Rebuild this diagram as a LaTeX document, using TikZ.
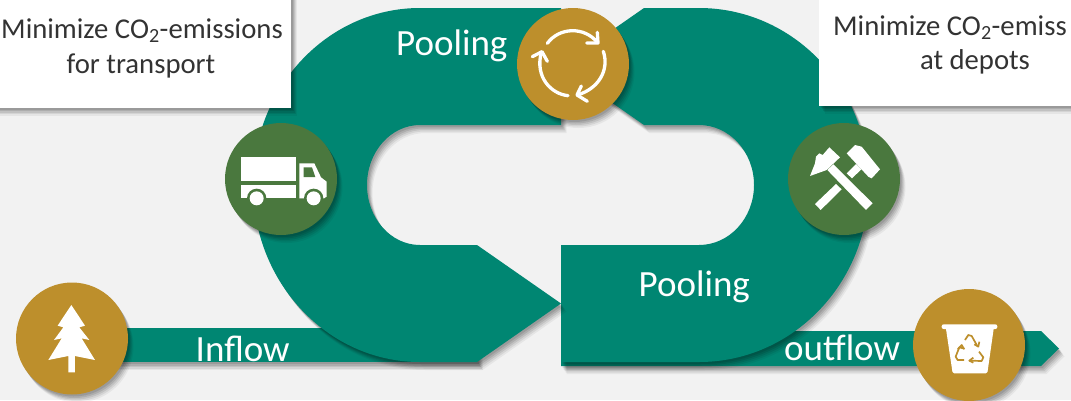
\documentclass[tikz,border=0pt]{standalone}
\usepackage{fontspec}
\setmainfont{Carlito}
\usetikzlibrary{shadows}
\definecolor{bgc}{HTML}{F2F2F2}
\definecolor{teal1}{HTML}{008672}
\definecolor{gold1}{HTML}{BD8F2C}
\definecolor{green1}{HTML}{4A783E}
\definecolor{ink}{HTML}{333333}
\tikzset{
  softshadow/.style={
    general shadow={fill=black,opacity=.10,shadow xshift=1.5pt,shadow yshift=-2pt},
    general shadow={fill=black,opacity=.10,shadow xshift=2.5pt,shadow yshift=-3.5pt},
    general shadow={fill=black,opacity=.09,shadow xshift=3.5pt,shadow yshift=-5pt},
    general shadow={fill=black,opacity=.07,shadow xshift=4.5pt,shadow yshift=-6.5pt},
    general shadow={fill=black,opacity=.05,shadow xshift=5.5pt,shadow yshift=-8pt}},
  band/.style={fill=teal1,softshadow},
  disc/.style={circle,minimum size=112pt,inner sep=0pt,softshadow},
  golddisc/.style={disc,fill=gold1},
  greendisc/.style={disc,fill=green1},
  whitebox/.style={fill=white,softshadow},
  bigtext/.style={text=white,inner sep=0pt,anchor=base west,font=\fontsize{37}{40}\selectfont},
  boxtext/.style={text=ink,inner sep=0pt,anchor=base,font=\fontsize{28.7}{32}\selectfont},
  icon/.style={fill=white},
  loopline/.style={draw=white,line width=3.3pt,line cap=round,line join=round},
  recline/.style={draw=gold1,line width=1.7pt,line join=round},
}
\begin{document}
\begin{tikzpicture}[x=1pt,y=-1pt]
\useasboundingbox (0,0) rectangle (1071,400);
\clip (0,0) rectangle (1071,400);
\fill[bgc] (0,0) rectangle (1071,400);
% straight bands
\path[band] (72,328) -- (477,328) -- (477,362) -- (72,362) -- cycle;
\path[band] (561,331) -- (1041,331) -- (1059,348.5) -- (1041,366) -- (561,366) -- cycle;
% right half of the loop
\path[band] (644,8) -- (699,8) arc[start angle=270,end angle=450,x radius=170,y radius=177]
  -- (561,362) -- (561,245) -- (699,245)
  arc[start angle=90,end angle=-90,x radius=55,y radius=60]
  -- (644,125) -- (560,66.5) -- cycle;
% left half of the loop
\path[band] (561,8) -- (420,8) arc[start angle=270,end angle=90,x radius=167,y radius=177]
  -- (477,362) -- (561,303.5) -- (477,245) -- (420,245)
  arc[start angle=90,end angle=270,x radius=53,y radius=60]
  -- (561,125) -- cycle;
% white boxes
\path[whitebox] (-20,-20) rectangle (291,107.5);
\path[whitebox] (819,-20) rectangle (1100,105.5);
\node[boxtext] (t1a) at (142,38) {Minimize CO\textsubscript{2}-emissions};
\node[boxtext] (t1b) at (141,73) {for transport};
\node[boxtext,anchor=base west] (t2a) at (833,35) {Minimize CO\textsubscript{2}-emiss};
\node[boxtext] (t2b) at (975,69.5) {at depots};
% labels
\node[bigtext] (p1) at (396,55) {Pooling};
\node[bigtext] (p2) at (638.5,296) {Pooling};
\node[bigtext] (inf) at (195.5,361) {Inflow};
\node[bigtext] (outf) at (784,360.5) {outflow};
% discs
\node[golddisc] (tree) at (72,338.5) {};
\node[greendisc] (truck) at (281,179) {};
\node[golddisc] (cycle) at (573,64) {};
\node[greendisc] (tools) at (844,179) {};
\node[golddisc] (bin) at (969,345) {};
% tree icon
\begin{scope}[shift={(30,295)},scale=.3333]
\fill[icon] (124,30) -- (165,92) -- (148,97) -- (178,135) -- (155,130) -- (195,195) -- (135,183)
  -- (135,232) -- (115,232) -- (115,183) -- (55,195) -- (95,130) -- (72,135) -- (100,97) -- (83,92) -- cycle;
\end{scope}
% truck icon
\begin{scope}[shift={(226,130)},scale=.3333]
\fill[icon] (45,82) rectangle (210,153);
\fill[icon] (45,165) rectangle (210,205);
\fill[icon] (220,100) -- (265,100) -- (285,142) -- (302,155) -- (302,200) -- (294,205) -- (220,205) -- cycle;
\fill[green1] (92,205) circle[radius=29];
\fill[green1] (263,205) circle[radius=29];
\fill[green1] (233,112) -- (258,112) -- (268,141) -- (233,141) -- cycle;
\fill[icon] (92,205) circle[radius=21];
\fill[icon] (263,205) circle[radius=21];
\end{scope}
% hammers icon
\begin{scope}[shift={(790,130)},scale=.3333]
\fill[icon] (112,120) -- (130,103) -- (248,220) -- (228,240) -- cycle;
\fill[icon] (60,138) -- (75,100) -- (78,80) -- (88,70) -- (98,75) -- (118,52) -- (150,82) -- (110,120) -- cycle;
\fill[icon] (75,222) -- (138,162) -- (155,178) -- (92,240) -- cycle;
\fill[icon] (170,130) -- (198,102) -- (214,118) -- (186,145) -- cycle;
\fill[icon] (170,70) -- (195,45) -- (215,50) -- (270,118) -- (245,145) -- (235,140) -- cycle;
\end{scope}
% cycle icon
\begin{scope}[shift={(518,14)},scale=.3333]
\draw[loopline] (88,88) .. controls (125,38) and (200,38) .. (238,85);
\draw[loopline] (238,55) -- (240,87) -- (206,87);
\draw[loopline] (256,112) .. controls (275,170) and (240,225) .. (178,243);
\draw[loopline] (190,216) -- (177,243) -- (208,262);
\draw[loopline] (150,245) .. controls (100,240) and (50,190) .. (70,115);
\draw[loopline] (43,128) -- (72,113) -- (88,142);
\end{scope}
% bin icon
\begin{scope}[shift={(915,310)},scale=.3333]
\fill[icon,rounded corners=2pt] (80,43) rectangle (247,57);
\fill[icon,rounded corners=1.5pt] (92,50) -- (237,50) -- (217,190) -- (113,190) -- cycle;
\draw[recline] (150,90) -- (160,75) -- (170,78) -- (187,108);
\draw[recline] (178,103) -- (190,110) -- (193,95);
\draw[recline] (145,115) -- (133,112) -- (122,140) -- (128,150) -- (147,150);
\draw[recline] (128,118) -- (140,105) -- (148,118);
\draw[recline] (192,125) -- (205,142) -- (200,153) -- (163,152);
\draw[recline] (175,143) -- (163,152) -- (175,158);
\end{scope}
\end{tikzpicture}
\end{document}
